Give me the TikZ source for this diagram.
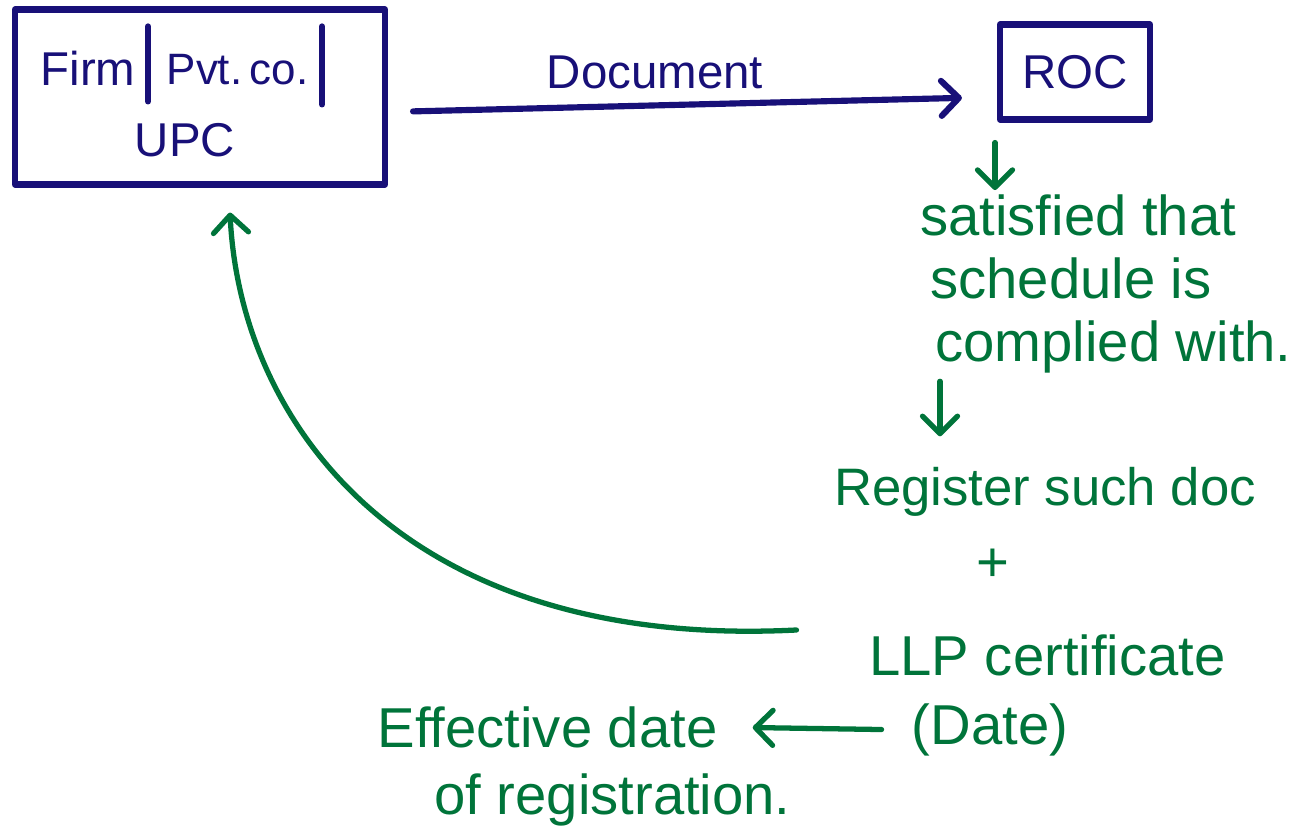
\documentclass[tikz,border=0pt]{standalone}
\usepackage{fontspec}
\setmainfont{Liberation Sans}
\usetikzlibrary{arrows.meta}
\definecolor{inkblue}{RGB}{24,16,120}
\definecolor{inkgreen}{RGB}{0,116,58}

\begin{document}
\begin{tikzpicture}[
    bluepen/.style={draw=inkblue, line width=3.5pt, line cap=round, line join=round},
    greenpen/.style={draw=inkgreen, line width=3pt, line cap=round, line join=round},
    tip/.style={-{Straight Barb[length=3.5mm,width=7mm,round]}},
    bluetext/.style={text=inkblue, inner sep=0pt, font=\fontsize{27}{32}\selectfont},
    greentext/.style={text=inkgreen, inner sep=0pt, font=\fontsize{32}{38}\selectfont},
  ]
  \useasboundingbox (0,0) rectangle (26.32,16.68);

  % firm box and ROC
  \node[bluepen, minimum width=7.4cm, minimum height=3.5cm] (box1) at (4.0,14.74) {};
  \node[bluetext] (firm) at (1.76,15.32) {Firm};
  \node[bluetext, font=\fontsize{25}{30}\selectfont] (pvt) at (4.75,15.28) {Pvt.\,co.};
  \node[bluetext] (upc) at (3.7,13.88) {UPC};
  \draw[bluepen] ([xshift=-1.04cm,yshift=-0.4cm]box1.north) -- ++(0,-1.5);
  \draw[bluepen] ([xshift=2.44cm,yshift=-0.4cm]box1.north) -- ++(0,-1.56);
  \node[bluepen, bluetext, minimum width=3cm, minimum height=1.9cm] (roc) at (21.5,15.24) {ROC};
  \node[bluetext] (doc) at (13.1,15.24) {Document};
  \draw[bluepen, tip, shorten <=0.5cm, shorten >=0.7cm] ([yshift=-0.3cm]box1.east) -- ([yshift=-0.5cm]roc.west);

  % what ROC does
  \node[greentext, align=left, anchor=west] (sat) at (18.4,11.0)
    {satisfied that\\[-2pt]\hspace{0.2cm}schedule is\\[-2pt]\hspace{0.3cm}complied with.};
  \draw[greenpen, tip] ([xshift=-1.6cm,yshift=-0.4cm]roc.south) -- ++(0,-0.95);
  \draw[greenpen, tip] ([shift={(0.4,-0.15)}]sat.south west) -- ++(0,-1.1);
  \node[greentext, font=\fontsize{30}{36}\selectfont] (reg) at (20.9,6.84) {Register such doc};
  \node[greentext] (plus) at (19.86,5.38) {+};
  \node[greentext] (cert) at (20.95,3.58) {LLP certificate};
  \node[greentext] (date) at (19.8,2.08) {(Date)};
  \node[greentext] (eff) at (10.95,2.14) {Effective date};
  \node[greentext] (ofreg) at (12.25,0.68) {of registration.};
  \draw[greenpen, tip, shorten <=0.6cm, shorten >=0.7cm] (date.west) -- (eff.east);

  % back to the firm
  \draw[greenpen, tip] ([shift={(-1.45,0.5)}]cert.west) .. controls (8.0,3.68) and (4.8,8.28) .. ([shift={(0.6,-0.5)}]box1.south);
\end{tikzpicture}
\end{document}
